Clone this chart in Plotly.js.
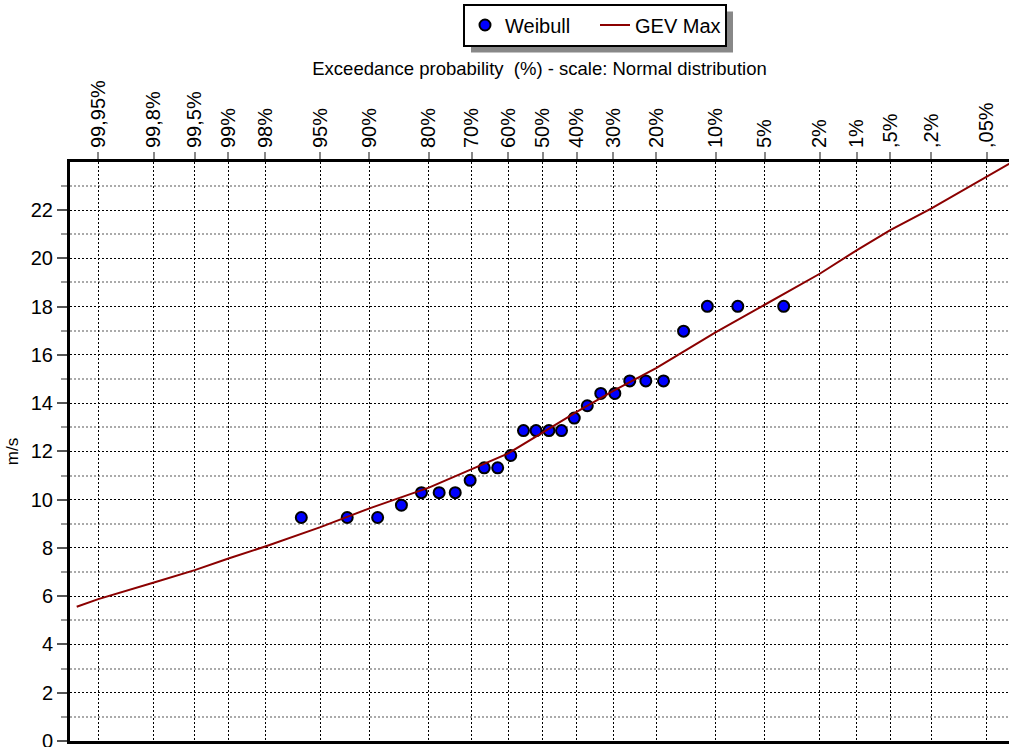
<!DOCTYPE html>
<html>
<head>
<meta charset="utf-8">
<script src="https://cdn.plot.ly/plotly-3.0.1.min.js"></script>
<style>
  html, body { margin: 0; padding: 0; background: #fff; }
  #chart { width: 1009px; height: 747px; }
</style>
</head>
<body>
<div id="chart"></div>
<script>
// Annual maximum wind speeds (m/s) with Weibull plotting positions (exceedance, %)
const weibullExceedance = [96.3, 92.6, 88.9, 85.2, 81.5, 77.8, 74.1, 70.4, 66.7, 63.0, 59.3, 55.6, 51.9,
                           48.1, 44.4, 40.7, 37.0, 33.3, 29.6, 25.9, 22.2, 18.5, 14.8, 11.1, 7.4, 3.7];
const weibullSpeed = [9.26, 9.26, 9.26, 9.77, 10.29, 10.29, 10.29, 10.80, 11.32, 11.32, 11.83, 12.86, 12.86,
                      12.86, 12.86, 13.38, 13.89, 14.40, 14.40, 14.92, 14.92, 14.92, 16.98, 18.01, 18.01, 18.01];

// Fitted GEV (maxima) quantile curve
const gevExceedance = [99.972, 99.95, 99.8, 99.5, 99, 98, 95, 90, 80, 70, 60, 50, 40, 30, 20, 10, 5, 2, 1, 0.5, 0.2, 0.05, 0.027];
const gevSpeed = [5.56, 5.88, 6.57, 7.08, 7.56, 8.06, 8.86, 9.64, 10.50, 11.27, 11.92, 12.78, 13.64, 14.51, 15.45, 16.93, 18.07, 19.36, 20.33, 21.17, 22.06, 23.38, 23.93];

// Top-axis probability ticks
const tickExceedance = [99.95, 99.8, 99.5, 99, 98, 95, 90, 80, 70, 60, 50, 40, 30, 20, 10, 5, 2, 1, 0.5, 0.2, 0.05];
const tickLabels = ["99,95%", "99,8%", "99,5%", "99%", "98%", "95%", "90%", "80%", "70%", "60%", "50%",
                    "40%", "30%", "20%", "10%", "5%", "2%", "1%", ",5%", ",2%", ",05%"];
const speedTicks = [0, 2, 4, 6, 8, 10, 12, 14, 16, 18, 20, 22];
const speedMinorTicks = [1, 3, 5, 7, 9, 11, 13, 15, 17, 19, 21, 23];

// Inverse standard normal CDF (Acklam's rational approximation)
function normInv(p) {
  const a = [-3.969683028665376e+01, 2.209460984245205e+02, -2.759285104469687e+02, 1.383577518672690e+02, -3.066479806614716e+01, 2.506628277386502e+00];
  const b = [-5.447609879822406e+01, 1.615858368580409e+02, -1.556989798598866e+02, 6.680131188771972e+01, -1.328068155288572e+01];
  const c = [-7.784894002430293e-03, -3.223964580411365e-01, -2.400758277161838e+00, -2.549671175908990e+00, 4.374664141464968e+00, 2.938163982698783e+00];
  const d = [7.784695709041462e-03, 3.224671290700398e-01, 2.445134137142996e+00, 3.754408661907416e+00];
  const pl = 0.02425, ph = 1 - pl;
  let q, r;
  if (p < pl) {
    q = Math.sqrt(-2 * Math.log(p));
    return (((((c[0]*q+c[1])*q+c[2])*q+c[3])*q+c[4])*q+c[5]) / ((((d[0]*q+d[1])*q+d[2])*q+d[3])*q+1);
  }
  if (p <= ph) {
    q = p - 0.5; r = q * q;
    return (((((a[0]*r+a[1])*r+a[2])*r+a[3])*r+a[4])*r+a[5])*q / (((((b[0]*r+b[1])*r+b[2])*r+b[3])*r+b[4])*r+1);
  }
  q = Math.sqrt(-2 * Math.log(1 - p));
  return -(((((c[0]*q+c[1])*q+c[2])*q+c[3])*q+c[4])*q+c[5]) / ((((d[0]*q+d[1])*q+d[2])*q+d[3])*q+1);
}
// exceedance (%) -> standard normal variate
const probit = e => normInv(1 - e / 100);

const FONT = "'Liberation Sans', Arial, Helvetica, sans-serif";
const W = 1009, H = 747;
const M = { l: 70, r: 0, t: 162, b: 6 };

const traces = [
  {
    type: "scatter", mode: "markers", name: "Weibull",
    x: weibullExceedance.map(probit), y: weibullSpeed,
    text: weibullExceedance.map(e => e + "%"),
    hovertemplate: "%{text}<br>%{y:.2f} m/s<extra>Weibull</extra>",
    marker: { size: 11, color: "#0000ff", line: { color: "#000", width: 2 } }
  },
  {
    type: "scatter", mode: "lines", name: "GEV Max",
    x: gevExceedance.map(probit), y: gevSpeed,
    text: gevExceedance.map(e => e + "%"),
    hovertemplate: "%{text}<br>%{y:.2f} m/s<extra>GEV Max</extra>",
    line: { color: "#8b0000", width: 2 }
  }
];

const layout = {
  width: W, height: H,
  margin: { l: M.l, r: M.r, t: M.t, b: M.b, pad: 0 },
  paper_bgcolor: "#fff", plot_bgcolor: "#fff",
  font: { family: FONT, size: 20, color: "#000" },
  showlegend: true,
  legend: {
    orientation: "h",
    x: (463 - M.l) / (W - M.l - M.r), xanchor: "left",
    y: (H - M.b - 3.5) / (H - M.t - M.b), yanchor: "top",
    bgcolor: "#fff", bordercolor: "#000", borderwidth: 2,
    font: { family: FONT, size: 20, color: "#000" },
    itemwidth: 30,
    entrywidth: 85
  },
  xaxis: {
    side: "top",
    range: [-3.5, 3.4556],
    tickmode: "array",
    tickvals: tickExceedance.map(probit),
    ticktext: tickLabels,
    tickangle: -90,
    ticks: "outside", ticklen: 7, tickwidth: 1.5, tickcolor: "#888",
    tickfont: { family: FONT, size: 20, color: "#000" },
    showline: true, linewidth: 3, linecolor: "#000", mirror: true,
    showgrid: true, gridcolor: "#000", gridwidth: 1.3, griddash: "2px,2px",
    zeroline: false,
    title: {
      text: "Exceedance probability\u00a0 (%) - scale: Normal distribution",
      font: { family: FONT, size: 18.5, color: "#000" },
      standoff: 0
    }
  },
  yaxis: {
    range: [0, 23.99],
    tickmode: "array",
    tickvals: speedTicks,
    ticks: "outside", ticklen: 10, tickwidth: 1.5, tickcolor: "#555",
    tickfont: { family: FONT, size: 20, color: "#000" },
    ticklabeloverflow: "allow",
    showline: true, linewidth: 3, linecolor: "#000",
    showgrid: true, gridcolor: "#000", gridwidth: 1.3, griddash: "2px,2px",
    zeroline: false,
    minor: {
      tickmode: "array", tickvals: speedMinorTicks,
      ticks: "outside", ticklen: 6, tickwidth: 1.5, tickcolor: "#999",
      showgrid: true, gridcolor: "#aaa", gridwidth: 1.5
    },
    title: {
      text: "m/s",
      font: { family: FONT, size: 17, color: "#000" },
      standoff: 8
    }
  }
};

const gd = document.getElementById("chart");
Plotly.newPlot(gd, traces, layout, { displayModeBar: false }).then(() => {
  // drop shadow offset behind the rendered legend box
  const bg = gd.querySelector(".legend .bg");
  if (!bg) return;
  const box = bg.getBoundingClientRect();
  const host = gd.getBoundingClientRect();
  const pw = W - M.l - M.r, ph = H - M.t - M.b;
  const off = 7;
  const left = box.left - host.left + off, right = box.right - host.left + off;
  const top = box.top - host.top + off, bottom = box.bottom - host.top + off;
  return Plotly.relayout(gd, {
    shapes: [{
      type: "rect", xref: "paper", yref: "paper", layer: "above",
      x0: (left - M.l) / pw, x1: (right - M.l) / pw,
      y0: (H - M.b - bottom) / ph, y1: (H - M.b - top) / ph,
      fillcolor: "#888", line: { width: 0 }
    }]
  });
});
</script>
</body>
</html>
